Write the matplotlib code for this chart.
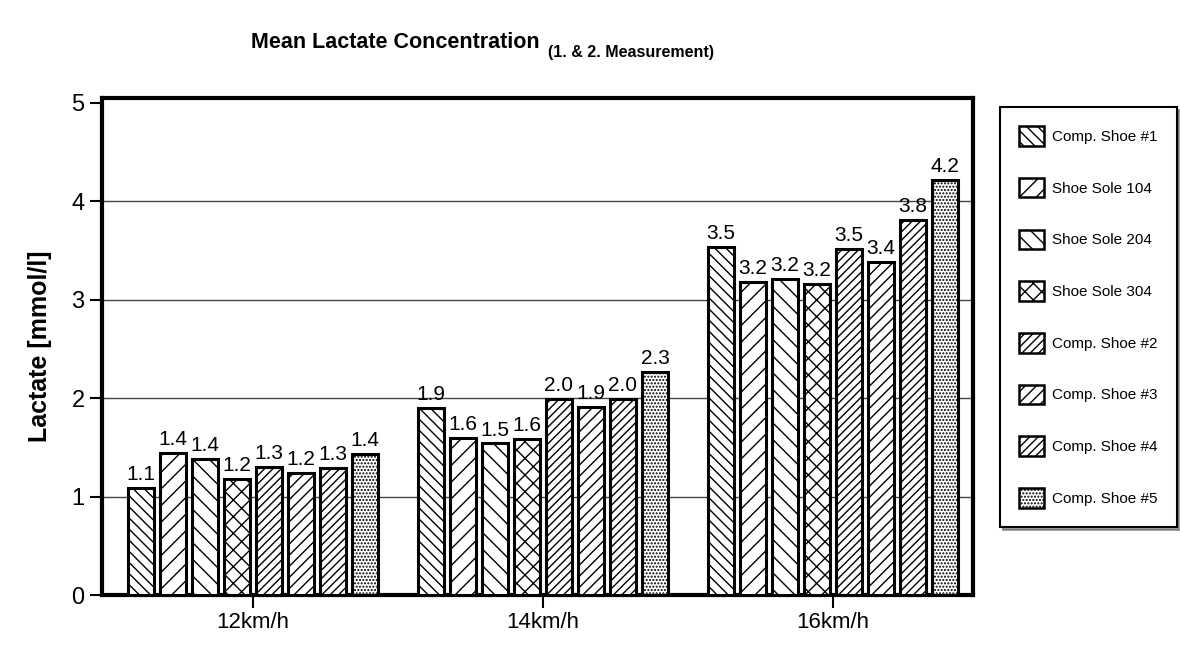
import matplotlib
matplotlib.use("Agg")
import matplotlib.pyplot as plt
import numpy as np
from matplotlib import font_manager

names = {f.name for f in font_manager.fontManager.ttflist}
NARROW = 'Liberation Sans Narrow' if 'Liberation Sans Narrow' in names else 'Liberation Sans'
plt.rcParams['font.family'] = [NARROW, 'DejaVu Sans']
plt.rcParams['hatch.linewidth'] = 1.0

categories = ['12km/h', '14km/h', '16km/h']
series = ['Comp. Shoe #1', 'Shoe Sole 104', 'Shoe Sole 204', 'Shoe Sole 304',
          'Comp. Shoe #2', 'Comp. Shoe #3', 'Comp. Shoe #4', 'Comp. Shoe #5']
values = [
    [1.09, 1.90, 3.54],   # Comp. Shoe #1
    [1.44, 1.60, 3.18],   # Shoe Sole 104
    [1.38, 1.54, 3.21],   # Shoe Sole 204
    [1.18, 1.59, 3.16],   # Shoe Sole 304
    [1.30, 1.99, 3.52],   # Comp. Shoe #2
    [1.24, 1.91, 3.38],   # Comp. Shoe #3
    [1.29, 1.99, 3.81],   # Comp. Shoe #4
    [1.43, 2.27, 4.22],   # Comp. Shoe #5
]
labels = [
    ['1.1', '1.9', '3.5'],
    ['1.4', '1.6', '3.2'],
    ['1.4', '1.5', '3.2'],
    ['1.2', '1.6', '3.2'],
    ['1.3', '2.0', '3.5'],
    ['1.2', '1.9', '3.4'],
    ['1.3', '2.0', '3.8'],
    ['1.4', '2.3', '4.2'],
]
yticks = [0, 1, 2, 3, 4, 5]
hatches = ['\\\\\\', '//', '\\\\', 'xx', '////', '///', '////', '.....']

fig = plt.figure(figsize=(11.8, 6.56), dpi=100)
ax = fig.add_axes([102/1180, 1 - 595/656, (973-102)/1180, (595-98)/656])

x = np.arange(len(categories))
pitch = 0.1105
width = 0.09
handles = []
for i, (s, v) in enumerate(zip(series, values)):
    pos = x + (i - 3.5) * pitch
    bars = ax.bar(pos, v, width, facecolor='white', edgecolor='black',
                  linewidth=2.2, hatch=hatches[i], label=s, zorder=3)
    handles.append(bars)
    for b, lab in zip(bars, labels[i]):
        ax.text(b.get_x() + b.get_width()/2, b.get_height() + 0.04, lab,
                ha='center', va='bottom', fontsize=15, zorder=4)

ax.set_xlim(-0.52, 2.483)
ax.set_ylim(0, 5.05)
ax.set_yticks(yticks)
ax.set_yticklabels([str(t) for t in yticks], fontsize=17)
ax.set_xticks(x)
ax.set_xticklabels(categories, fontsize=16)
ax.tick_params(axis='both', direction='out', length=9, width=1.5, color='black')
for t in yticks[1:-1]:
    ax.axhline(t, color='#444444', linewidth=1.0, zorder=0)
for sp in ax.spines.values():
    sp.set_linewidth(3)
ax.set_ylabel('Lactate [mmol/l]', fontsize=18, fontweight='bold', labelpad=14)

fig.text(540/1180, 1 - 42/656, 'Mean Lactate Concentration', ha='right', va='center',
         fontsize=15.5, fontweight='bold')
fig.text(548/1180, 1 - 53/656, '(1. & 2. Measurement)', ha='left', va='center',
         fontsize=11.5, fontweight='bold')

leg = fig.legend(handles=handles, labels=series, loc='upper left',
                 bbox_to_anchor=(1000/1180, 1 - 107/656), fontsize=11,
                 frameon=True, fancybox=False, shadow=True, edgecolor='black',
                 handlelength=1.6, handleheight=1.6, labelspacing=2.1,
                 borderpad=1.25, handletextpad=0.55, borderaxespad=0)
leg.get_frame().set_linewidth(1.5)
for h in leg.legend_handles:
    h.set_linewidth(1.8)

fig.savefig('out.png', dpi=100)
